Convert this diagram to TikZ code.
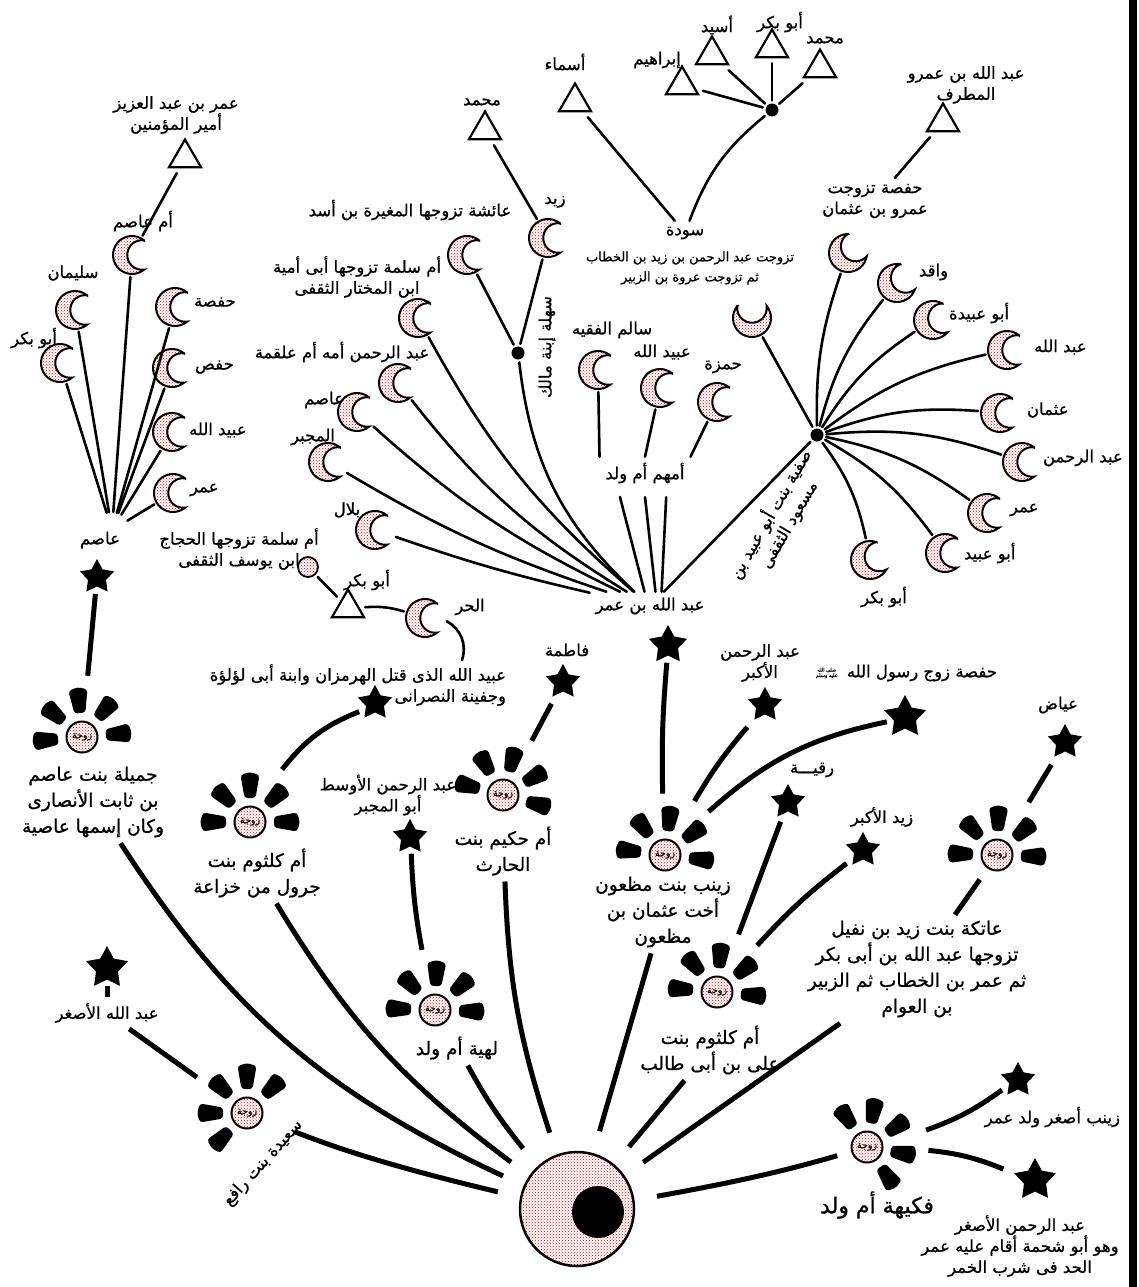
\documentclass[tikz,border=0pt]{standalone}
\usepackage{fontspec}
\newfontfamily\arabicfont[Script=Arabic, FakeBold=0.8]{DejaVu Sans}
\TeXXeTstate=1
\usetikzlibrary{shapes.geometric,patterns,positioning}
\newcommand{\AR}[1]{\beginR #1\endR}

\tikzset{
  ism/.style={font=\arabicfont\fontsize{16.5}{21}\selectfont, align=center, inner sep=1pt, outer sep=5pt},
  kabir/.style={ism, font=\arabicfont\fontsize{18.5}{26}\selectfont},
  sghir/.style={ism, font=\arabicfont\fontsize{13}{20}\selectfont},
  salla/.style={ism, font=\arabicfont\fontsize{5}{5.5}\selectfont, inner sep=0pt, outer sep=0pt},
  bint/.style={circle, minimum size=38pt, inner sep=0pt, outer sep=3pt},
  ibn/.style={star, star points=5, star point ratio=1.9, fill=black, minimum size=36pt, inner sep=0pt, outer sep=6pt},
  hafid/.style={regular polygon, regular polygon sides=3, draw, line width=2.2pt, minimum size=37pt, inner sep=0pt, outer sep=6pt},
  nuqta/.style={circle, fill, minimum size=13pt, inner sep=0pt, outer sep=3pt},
  zawja/.style={circle, draw, line width=2pt, minimum size=31pt, inner sep=0pt, outer sep=46pt,
    pattern=crosshatch dots, pattern color=red, font=\arabicfont\fontsize{9.5}{9.5}\selectfont},
  silk/.style={line width=2.6pt, line cap=round},
  habl/.style={line width=5pt},
  hilal/.pic={
    \draw[line width=2pt, pattern=crosshatch dots, pattern color=red]
      (50:19) arc[start angle=50, end angle=310, radius=19]
      arc[start angle=278.6, end angle=81.4, radius=14.77] -- cycle;
  },
  nawr/.pic={
    \foreach \a in {-90,-45,0,45,90}
      \fill[rotate=\a, rounded corners=3pt] (24,-5.5) -- (47,-9.5) -- (50,0) -- (47,9.5) -- (24,5.5) -- cycle;
  },
}

\begin{document}
\begin{tikzpicture}[x=1pt,y=1pt]
  \useasboundingbox (0,0) rectangle (1138,-1287);
  \fill (1129,0) rectangle (1137,-1287);

  % Umar and his wives
  \node[circle, draw, line width=2.5pt, minimum size=114pt, inner sep=0pt, outer sep=24pt,
        pattern=crosshatch dots, pattern color=red] (umar) at (577,-1209) {};
  \node[circle, fill, minimum size=52pt, inner sep=0pt] (umar-core) at (598,-1212) {};

  \node[zawja] (jamila) at (82,-737) {\AR{زوجة}};
  \node[kabir] (jamila-l) at (93,-802) {\AR{جميلة بنت عاصم}\\\AR{بن ثابت الأنصارى}\\\AR{وكان إسمها عاصية}};
  \node[zawja] (jarwal) at (250,-822) {\AR{زوجة}};
  \node[kabir] (jarwal-l) at (257,-873) {\AR{أم كلثوم بنت}\\\AR{جرول من خزاعة}};
  \node[zawja] (hakim) at (503,-795) {\AR{زوجة}};
  \node[kabir] (hakim-l) at (503,-851) {\AR{أم حكيم بنت}\\\AR{الحارث}};
  \node[zawja] (luhayya) at (435,-1010) {\AR{زوجة}};
  \node[kabir] (luhayya-l) at (457,-1048) {\AR{لهية أم ولد}};
  \node[zawja] (zaynab) at (665,-855) {\AR{زوجة}};
  \node[kabir] (zaynab-l) at (663,-912) {\AR{زينب بنت مظعون}\\\AR{أخت عثمان بن}\\\AR{مظعون}};
  \node[zawja] (kulthum) at (717,-992) {\AR{زوجة}};
  \node[kabir] (kulthum-l) at (710,-1050) {\AR{أم كلثوم بنت}\\\AR{على بن أبى طالب}};
  \node[zawja] (atika) at (997,-855) {\AR{زوجة}};
  \node[kabir] (atika-l) at (917,-969) {\AR{عاتكة بنت زيد بن نفيل}\\\AR{تزوجها عبد الله بن أبى بكر}\\\AR{ثم عمر بن الخطاب ثم الزبير}\\\AR{بن العوام}};
  \node[zawja] (fukayha) at (867,-1147) {\AR{زوجة}};
  \node[ism, font=\arabicfont\fontsize{22}{26}\selectfont] (fukayha-l) at (877,-1205) {\AR{فكيهة أم ولد}};
  \node[zawja] (saida) at (247,-1113) {\AR{زوجة}};
  \node[ism, rotate=48] (saida-l) at (263,-1163) {\AR{سعيدة بنت رافع}};

  \foreach \n/\r in {jamila/95, jarwal/90, hakim/75, luhayya/88, zaynab/83, kulthum/85, atika/88, saida/135, fukayha/35}
    \pic[rotate=\r] at (\n) {nawr};

  % children of Umar
  \node[ibn] (asim) at (97,-577) {};
  \node[ism] (asim-l) at (100,-540) {\AR{عاصم}};
  \node[ibn] (ubaydallah) at (375,-703) {};
  \node[ism, anchor=east, align=right] (ubaydallah-l) at (512,-685) {\AR{عبيد الله الذى قتل الهرمزان وابنة أبى لؤلؤة}\\\AR{وجفينة النصرانى}};
  \node[ibn] (fatima) at (563,-682) {};
  \node[ism] (fatima-l) at (567,-650) {\AR{فاطمة}};
  \node[ibn] (awsat) at (410,-837) {};
  \node[ism] (awsat-l) at (388,-795) {\AR{عبد الرحمن الأوسط}\\\AR{أبو المجبر}};
  \node[ibn, minimum size=40pt] (abdallah) at (668,-645) {};
  \node[ism] (abdallah-l) at (650,-606) {\AR{عبد الله بن عمر}};
  \node[ibn] (akbar) at (765,-705) {};
  \node[ism] (akbar-l) at (760,-663) {\AR{عبد الرحمن}\\\AR{الأكبر}};
  \node[ibn, minimum size=44pt] (hafsa) at (905,-717) {};
  \node[ism, anchor=east] (hafsa-l) at (1003,-673) {\AR{حفصة زوج رسول الله}};
  \node[salla, left=3pt of hafsa-l] (hafsa-s) {\AR{صلى الله}\\\AR{عليه وسلم}};
  \node[ibn] (iyad) at (1065,-742) {};
  \node[ism] (iyad-l) at (1058,-705) {\AR{عياض}};
  \node[ibn] (ruqayya) at (788,-802) {};
  \node[ism] (ruqayya-l) at (812,-770) {\AR{رقيـــة}};
  \node[ibn] (zaydakbar) at (863,-850) {};
  \node[ism] (zaydakbar-l) at (882,-817) {\AR{زيد الأكبر}};
  \node[ibn] (zaynabs) at (1018,-1080) {};
  \node[ism, anchor=east] (zaynabs-l) at (1126,-1117) {\AR{زينب أصغر ولد عمر}};
  \node[ibn, minimum size=44pt] (asghar) at (1035,-1180) {};
  \node[ism] (asghar-l) at (1020,-1246) {\AR{عبد الرحمن الأصغر}\\\AR{وهو أبو شحمة أقام عليه عمر}\\\AR{الحد فى شرب الخمر}};
  \node[ibn, minimum size=44pt] (abdasghar) at (107,-968) {};
  \node[ism] (abdasghar-l) at (107,-1013) {\AR{عبد الله الأصغر}};

  % line of Asim
  \coordinate (asim-hub) at (112,-530);
  \node[bint] (umasim) at (132,-255) {};
  \node[ism] (umasim-l) at (143,-221) {\AR{أم عاصم}};
  \node[hafid] (umaraziz) at (185,-158) {};
  \node[ism] (umaraziz-l) at (176,-115) {\AR{عمر بن عبد العزيز}\\\AR{أمير المؤمنين}};
  \node[bint] (sulayman) at (75,-310) {};
  \node[ism] (sulayman-l) at (73,-273) {\AR{سليمان}};
  \node[bint] (abubakr1) at (60,-363) {};
  \node[ism] (abubakr1-l) at (34,-338) {\AR{أبو بكر}};
  \node[bint] (hafsa1) at (175,-307) {};
  \node[ism, anchor=west] (hafsa1-l) at (188,-302) {\AR{حفصة}};
  \node[bint] (hafs) at (172,-368) {};
  \node[ism, anchor=west] (hafs-l) at (189,-367) {\AR{حفص}};
  \node[bint] (ubaydallah1) at (172,-432) {};
  \node[ism, anchor=west] (ubaydallah1-l) at (183,-430) {\AR{عبيد الله}};
  \node[bint] (umar1) at (173,-493) {};
  \node[ism, anchor=west] (umar1-l) at (184,-490) {\AR{عمر}};

  % line of Abdallah ibn Umar
  \node[bint] (aisha) at (467,-255) {};
  \node[ism] (aisha-l) at (410,-210) {\AR{عائشة تزوجها المغيرة بن أسد}};
  \node[bint] (umsalama1) at (418,-318) {};
  \node[ism] (umsalama1-l) at (357,-277) {\AR{أم سلمة تزوجها أبى أمية}\\\AR{ابن المختار الثقفى}};
  \node[bint] (zayd) at (548,-238) {};
  \node[ism] (zayd-l) at (555,-202) {\AR{زيد}};
  \node[hafid] (muhammad1) at (485,-130) {};
  \node[ism] (muhammad1-l) at (482,-102) {\AR{محمد}};
  \node[hafid] (asma) at (575,-102) {};
  \node[ism] (asma-l) at (565,-62) {\AR{أسماء}};
  \node[nuqta] (sahla) at (518,-353) {};
  \node[ism, rotate=90] (sahla-l) at (547,-347) {\AR{سهلة إبنة مالك}};
  \node[bint] (abdrahman1) at (398,-383) {};
  \node[ism] (abdrahman1-l) at (342,-352) {\AR{عبد الرحمن أمه أم علقمة}};
  \node[bint] (asim2) at (357,-412) {};
  \node[ism, anchor=east] (asim2-l) at (350,-400) {\AR{عاصم}};
  \node[bint] (mujabbar) at (328,-462) {};
  \node[ism] (mujabbar-l) at (313,-437) {\AR{المجبر}};
  \node[bint] (bilal) at (375,-530) {};
  \node[ism] (bilal-l) at (347,-510) {\AR{بلال}};
  \node[circle, draw, line width=1.8pt, minimum size=20pt, inner sep=0pt, outer sep=4pt,
        pattern=crosshatch dots, pattern color=red] (umsalama2) at (308,-567) {};
  \node[ism] (umsalama2-l) at (239,-549) {\AR{أم سلمة تزوجها الحجاج}\\\AR{ابن يوسف الثقفى}};
  \node[hafid] (abubakr2) at (348,-608) {};
  \node[ism] (abubakr2-l) at (367,-580) {\AR{أبو بكر}};
  \node[bint] (hurr) at (425,-618) {};
  \node[ism] (hurr-l) at (470,-607) {\AR{الحر}};
  \coordinate (hurr-end) at (462,-660);

  \node[bint] (salim) at (598,-370) {};
  \node[ism] (salim-l) at (612,-330) {\AR{سالم الفقيه}};
  \node[bint] (ubaydallah2) at (660,-388) {};
  \node[ism] (ubaydallah2-l) at (662,-352) {\AR{عبيد الله}};
  \node[bint] (hamza) at (717,-402) {};
  \node[ism] (hamza-l) at (723,-367) {\AR{حمزة}};
  \node[ism] (ummahum) at (645,-473) {\AR{أمهم أم ولد}};

  \node[nuqta] (safiyya) at (817,-435) {};
  \node[ism, rotate=60] (safiyya-l) at (779,-519) {\AR{صفية بنت أبو عبيد بن}\\\AR{مسعود الثقفى}};
  \node[bint] (sawda) at (752,-318) {};
  \node[ism] (sawda-l) at (685,-233) {\AR{سودة}};
  \node[sghir] (sawda-n) at (690,-268) {\AR{تزوجت عبد الرحمن بن زيد بن الخطاب}\\\AR{ثم تزوجت عروة بن الزبير}};
  \node[nuqta] (sawda-hub) at (772,-110) {};
  \node[hafid] (ibrahim) at (682,-85) {};
  \node[ism] (ibrahim-l) at (657,-60) {\AR{إبراهيم}};
  \node[hafid] (usayd) at (712,-55) {};
  \node[ism] (usayd-l) at (717,-25) {\AR{أسيد}};
  \node[hafid] (abubakr4) at (772,-48) {};
  \node[ism] (abubakr4-l) at (780,-22) {\AR{أبو بكر}};
  \node[hafid] (muhammad2) at (820,-68) {};
  \node[ism] (muhammad2-l) at (825,-40) {\AR{محمد}};
  \node[bint] (hafsa2) at (848,-253) {};
  \node[ism] (hafsa2-l) at (875,-201) {\AR{حفصة تزوجت}\\\AR{عمرو بن عثمان}};
  \node[hafid] (mutarrif) at (943,-122) {};
  \node[ism] (mutarrif-l) at (966,-85) {\AR{عبد الله بن عمرو}\\\AR{المطرف}};
  \node[bint] (waqid) at (897,-283) {};
  \node[ism, anchor=west] (waqid-l) at (913,-272) {\AR{واقد}};
  \node[bint] (abuubayda) at (933,-320) {};
  \node[ism, anchor=west] (abuubayda-l) at (943,-313) {\AR{أبو عبيدة}};
  \node[bint] (abdallah3) at (1007,-350) {};
  \node[ism, anchor=west] (abdallah3-l) at (1028,-347) {\AR{عبد الله}};
  \node[bint] (uthman) at (1000,-413) {};
  \node[ism, anchor=west] (uthman-l) at (1021,-410) {\AR{عثمان}};
  \node[bint] (abdrahman3) at (1022,-462) {};
  \node[ism, anchor=west] (abdrahman3-l) at (1037,-458) {\AR{عبد الرحمن}};
  \node[bint] (umar3) at (987,-513) {};
  \node[ism, anchor=west] (umar3-l) at (1004,-510) {\AR{عمر}};
  \node[bint] (abuubayd) at (945,-553) {};
  \node[ism, anchor=west] (abuubayd-l) at (958,-553) {\AR{أبو عبيد}};
  \node[bint] (abubakr3) at (870,-560) {};
  \node[ism] (abubakr3-l) at (884,-597) {\AR{أبو بكر}};

  \foreach \n/\r in {umasim/0, sulayman/0, abubakr1/0, hafsa1/0, hafs/0, ubaydallah1/0, umar1/0,
                     aisha/0, umsalama1/0, zayd/0, abdrahman1/0, asim2/0, mujabbar/0, bilal/0, hurr/0,
                     salim/0, ubaydallah2/0, hamza/0, sawda/90, hafsa2/40, waqid/30, abuubayda/10,
                     abdallah3/0, uthman/0, abdrahman3/0, umar3/0, abuubayd/0, abubakr3/20}
    \pic[rotate=\r] at (\n) {hilal};

  % connectors of Umar
  \path[habl]
  (umar) edge[bend left=4, shorten >=51pt] (saida.center)
  (umar) edge[bend left=16] (jamila-l)
  (umar) edge[bend left=11] (jarwal-l)
  (umar) edge[bend left=5] (luhayya-l)
  (umar) edge[bend left=8] (hakim-l)
  (umar) edge (zaynab-l)
  (umar) edge (kulthum-l)
  (umar) edge (atika-l)
  (atika-l) edge[shorten >=30pt] (atika.center)
  (umar) edge[bend right=3, shorten >=31pt] (fukayha.center)

  (jamila) edge (asim)
  (jarwal) edge[bend left=15] (ubaydallah)
  (hakim) edge (fatima)
  (luhayya) edge[bend left=4] (awsat)
  (zaynab) edge[bend left=3] (abdallah)
  (zaynab) edge[bend left=5] (akbar)
  (zaynab) edge[bend left=15] (hafsa)
  (kulthum) edge (ruqayya)
  (kulthum) edge[bend left=5] (zaydakbar)
  (atika) edge (iyad)
  (saida) edge (abdasghar-l)
  (abdasghar-l) edge (abdasghar)
  (fukayha) edge[bend right=8] (zaynabs)
  (fukayha) edge[bend left=8] (asghar);

  % connectors of the grandchildren
  \path[silk]
  (asim-hub) edge[shorten <=18pt] (abubakr1)
  (asim-hub) edge[shorten <=18pt] (sulayman)
  (asim-hub) edge[shorten <=18pt] (umasim)
  (asim-hub) edge[shorten <=18pt] (hafsa1)
  (asim-hub) edge[shorten <=18pt] (hafs)
  (asim-hub) edge[shorten <=18pt] (ubaydallah1)
  (asim-hub) edge[shorten <=18pt] (umar1)
  (umasim) edge (umaraziz)

  (muhammad1) edge (zayd)
  (aisha) edge (sahla)
  (zayd) edge (sahla)
  (sahla) edge[bend right=20] (abdallah-l)
  (umsalama1) edge[bend right=10] (abdallah-l)
  (abdrahman1) edge[bend right=10] (abdallah-l)
  (asim2) edge[bend right=8] (abdallah-l)
  (mujabbar) edge[bend right=6] (abdallah-l)
  (bilal) edge[bend right=3] (abdallah-l)
  (umsalama2) edge (abubakr2)
  (abubakr2) edge[bend left=10] (hurr)
  (hurr) edge[bend left=40] (hurr-end)

  (salim) edge (ummahum.north west)
  (ubaydallah2) edge (ummahum.north)
  (hamza) edge (ummahum.north east)
  (ummahum.-149) edge[shorten <=8pt] (abdallah-l.111)
  (ummahum.-93) edge[shorten <=8pt] (abdallah-l.69)
  (ummahum.-37) edge[shorten <=8pt] (abdallah-l.51)
  (safiyya) edge (abdallah-l)

  (safiyya) edge[bend left=10] (hafsa2)
  (safiyya) edge (sawda)
  (safiyya) edge[bend left=12] (waqid)
  (safiyya) edge[bend left=12] (abuubayda)
  (safiyya) edge[bend left=12] (abdallah3)
  (safiyya) edge[bend left=12] (uthman)
  (safiyya) edge[bend left=12] (abdrahman3)
  (safiyya) edge[bend left=12] (umar3)
  (safiyya) edge[bend left=12] (abuubayd)
  (safiyya) edge[bend left=12] (abubakr3)
  (hafsa2-l) edge (mutarrif)
  (asma) edge (sawda-l)
  (sawda-l) edge[bend left=15] (sawda-hub)
  (sawda-hub) edge (ibrahim)
  (sawda-hub) edge (usayd)
  (sawda-hub) edge (abubakr4)
  (sawda-hub) edge (muhammad2);
\end{tikzpicture}
\end{document}
